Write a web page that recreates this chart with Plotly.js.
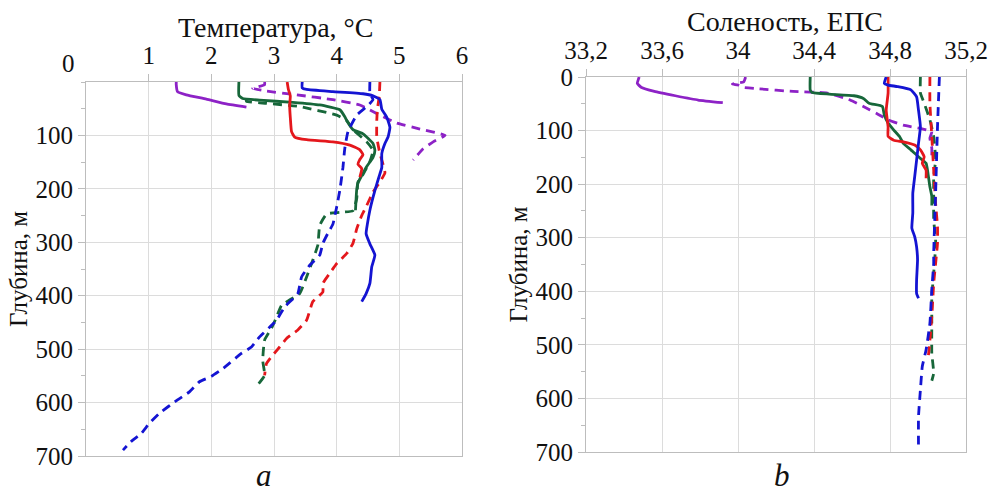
<!DOCTYPE html>
<html>
<head>
<meta charset="utf-8">
<script src="https://cdn.plot.ly/plotly-3.0.1.min.js"></script>
<style>html,body{margin:0;padding:0;background:#fff;}#chart{width:991px;height:494px;}</style>
</head>
<body>
<div id="chart"></div>
<script>
// ---------- Panel a: temperature (°C) vs depth (m) ----------
const tPurpleSolidDepth = [0, 5, 18, 24, 32, 41, 47];
const tPurpleSolidVal   = [1.44, 1.44, 1.46, 1.60, 1.92, 2.24, 2.56];

const tPurpleDashDepth = [0, 5, 12, 17, 24, 33, 43, 62, 77, 88, 100, 112, 125, 146];
const tPurpleDashVal   = [2.85, 2.85, 2.66, 2.88, 3.36, 3.94, 4.37, 4.69, 4.96, 5.33, 5.73, 5.54, 5.38, 5.22];

const tGreenSolidDepth = [0, 25, 31, 34, 38, 43, 52, 65, 72, 89, 97, 115, 128, 141, 158, 175, 189, 201, 219, 240];
const tGreenSolidVal   = [2.44, 2.44, 2.50, 2.77, 3.30, 3.73, 4.05, 4.13, 4.16, 4.26, 4.42, 4.58, 4.61, 4.58, 4.48, 4.40, 4.34, 4.32, 4.31, 4.30];

const tGreenDashDepth = [30, 36, 40, 46, 62, 72, 89, 112, 128, 149, 173, 187, 218, 241, 244, 247, 268, 305, 333, 365, 396, 408, 418, 440, 461, 483, 521, 549, 567];
const tGreenDashVal   = [2.56, 2.56, 2.88, 3.41, 4.00, 4.16, 4.26, 4.48, 4.58, 4.53, 4.42, 4.34, 4.32, 4.26, 4.05, 3.84, 3.73, 3.70, 3.62, 3.52, 3.41, 3.25, 3.12, 3.04, 2.96, 2.85, 2.82, 2.85, 2.74];

const tRedSolidDepth = [0, 14, 26, 44, 66, 93, 103, 108, 112, 118, 127, 136, 145, 154, 162, 178];
const tRedSolidVal   = [3.21, 3.23, 3.26, 3.25, 3.26, 3.28, 3.33, 3.52, 3.94, 4.21, 4.37, 4.42, 4.37, 4.34, 4.40, 4.37];

const tRedDashDepth = [0, 26, 51, 72, 103, 134, 146, 170, 187, 206, 231, 250, 275, 302, 321, 340, 358, 377, 393, 411, 446, 464, 480, 496, 514, 527, 549];
const tRedDashVal   = [4.69, 4.68, 4.65, 4.64, 4.64, 4.69, 4.72, 4.77, 4.69, 4.58, 4.48, 4.40, 4.32, 4.26, 4.16, 4.00, 3.89, 3.78, 3.78, 3.62, 3.52, 3.38, 3.20, 3.09, 2.96, 2.88, 2.85];

const tBlueSolidDepth = [0, 11, 14, 18, 22, 26, 33, 51, 66, 85, 103, 115, 134, 160, 172, 191, 216, 240, 266, 284, 303, 324, 346, 377, 396, 411];
const tBlueSolidVal   = [3.45, 3.45, 3.52, 3.94, 4.42, 4.58, 4.69, 4.72, 4.80, 4.85, 4.82, 4.77, 4.72, 4.72, 4.69, 4.64, 4.58, 4.53, 4.49, 4.47, 4.53, 4.61, 4.56, 4.53, 4.47, 4.40];

const tBlueDashDepth = [0, 22, 33, 46, 62, 93, 124, 160, 203, 234, 266, 283, 302, 324, 343, 365, 396, 421, 446, 459, 477, 496, 508, 536, 551, 561, 580, 595, 620, 639, 658, 673, 689];
const tBlueDashVal   = [4.53, 4.53, 4.58, 4.48, 4.32, 4.18, 4.13, 4.10, 4.05, 4.00, 3.94, 3.86, 3.78, 3.73, 3.57, 3.44, 3.38, 3.17, 3.04, 2.93, 2.77, 2.64, 2.48, 2.19, 2.00, 1.81, 1.65, 1.46, 1.17, 1.01, 0.88, 0.72, 0.59];

// ---------- Panel b: salinity (PSU) vs depth (m) ----------
const sPurpleSolidDepth = [0, 12, 19, 27, 35, 43, 48];
const sPurpleSolidVal   = [33.48, 33.47, 33.49, 33.56, 33.67, 33.79, 33.92];

const sPurpleDashDepth = [0, 9, 13, 15, 19, 22, 27, 30, 43, 55, 68, 80, 90, 96, 102, 114, 133, 146];
const sPurpleDashVal   = [34.04, 34.03, 33.97, 34.00, 34.02, 34.11, 34.29, 34.47, 34.59, 34.66, 34.73, 34.79, 34.87, 34.96, 35.02, 35.01, 35.02, 35.02];

const sGreenSolidDepth = [0, 24, 29, 32, 35, 40, 49, 55, 71, 86, 99, 111, 124, 136, 149, 161, 180, 205, 223, 240];
const sGreenSolidVal   = [34.38, 34.38, 34.39, 34.48, 34.61, 34.66, 34.69, 34.76, 34.77, 34.79, 34.82, 34.85, 34.87, 34.91, 34.95, 34.99, 35.00, 35.01, 35.02, 35.02];

const sGreenDashDepth = [0, 30, 49, 80, 111, 155, 186, 230, 267, 304, 317, 366, 410, 460, 516, 553, 567];
const sGreenDashVal   = [34.96, 34.96, 34.98, 35.01, 35.03, 35.04, 35.03, 35.03, 35.03, 35.04, 35.04, 35.03, 35.02, 35.02, 35.02, 35.03, 35.02];

const sRedSolidDepth = [0, 30, 62, 93, 111, 118, 121, 127, 136, 149, 161, 174, 189];
const sRedSolidVal   = [34.79, 34.79, 34.78, 34.79, 34.79, 34.82, 34.87, 34.93, 34.96, 34.98, 34.97, 34.99, 34.99];

const sRedDashDepth = [0, 49, 111, 174, 236, 279, 310, 385, 447, 491, 528];
const sRedDashVal   = [35.01, 35.01, 35.02, 35.03, 35.04, 35.05, 35.05, 35.03, 35.02, 35.01, 35.00];

const sBlueSolidDepth = [0, 12, 15, 18, 24, 37, 62, 93, 124, 155, 186, 217, 254, 282, 298, 317, 341, 379, 404, 413];
const sBlueSolidVal   = [34.78, 34.77, 34.79, 34.84, 34.91, 34.94, 34.95, 34.96, 34.95, 34.94, 34.93, 34.92, 34.92, 34.915, 34.93, 34.94, 34.945, 34.94, 34.94, 34.95];

const sBlueDashDepth = [0, 93, 217, 329, 348, 397, 460, 509, 540, 584, 634, 696];
const sBlueDashVal   = [35.06, 35.05, 35.04, 35.03, 35.03, 35.02, 35.01, 34.99, 34.97, 34.96, 34.95, 34.95];

// ---------- Axis ticks ----------
const tempTickVals = [1, 2, 3, 4, 5, 6];
const tempTickText = ["1", "2", "3", "4", "5", "6"];
const salTickVals = [33.2, 33.6, 34.0, 34.4, 34.8, 35.2];
const salTickText = ["33,2", "33,6", "34", "34,4", "34,8", "35,2"];
const depthTickValsA = [100, 200, 300, 400, 500, 600, 700];
const depthTickTextA = ["100", "200", "300", "400", "500", "600", "700"];
const depthTickValsB = [0, 100, 200, 300, 400, 500, 600, 700];
const depthTickTextB = ["0", "100", "200", "300", "400", "500", "600", "700"];

const titleTemp = "Температура, °C";
const titleSal = "Соленость, ЕПС";
const titleDepth = "Глубина, м";

// ---------- Styles ----------
const PURPLE = "#8d22c6", GREEN = "#17673a", RED = "#e4171c", BLUE = "#1414d2";
const LW = 2.8;
const DASH = "9px,6px";

function tr(x, y, color, dashed, xa, ya) {
  return {
    type: "scatter", mode: "lines", x: x, y: y, xaxis: xa, yaxis: ya,
    line: {color: color, width: LW, dash: dashed ? DASH : "solid", shape: "spline", smoothing: 0.4},
    hoverinfo: "x+y", showlegend: false
  };
}

const data = [
  tr(tPurpleSolidVal, tPurpleSolidDepth, PURPLE, false, "x", "y"),
  tr(tPurpleDashVal, tPurpleDashDepth, PURPLE, true, "x", "y"),
  tr(tGreenDashVal, tGreenDashDepth, GREEN, true, "x", "y"),
  tr(tGreenSolidVal, tGreenSolidDepth, GREEN, false, "x", "y"),
  tr(tRedSolidVal, tRedSolidDepth, RED, false, "x", "y"),
  tr(tRedDashVal, tRedDashDepth, RED, true, "x", "y"),
  tr(tBlueDashVal, tBlueDashDepth, BLUE, true, "x", "y"),
  tr(tBlueSolidVal, tBlueSolidDepth, BLUE, false, "x", "y"),

  tr(sPurpleSolidVal, sPurpleSolidDepth, PURPLE, false, "x2", "y2"),
  tr(sPurpleDashVal, sPurpleDashDepth, PURPLE, true, "x2", "y2"),
  tr(sGreenDashVal, sGreenDashDepth, GREEN, true, "x2", "y2"),
  tr(sGreenSolidVal, sGreenSolidDepth, GREEN, false, "x2", "y2"),
  tr(sRedDashVal, sRedDashDepth, RED, true, "x2", "y2"),
  tr(sBlueDashVal, sBlueDashDepth, BLUE, true, "x2", "y2"),
  tr(sRedSolidVal, sRedSolidDepth, RED, false, "x2", "y2"),
  tr(sBlueSolidVal, sBlueSolidDepth, BLUE, false, "x2", "y2")
];

const W = 991, H = 494;
const FONT = "'Liberation Serif', 'Times New Roman', serif";
const GRID = "#dcdcdc", LINE = "#bdbdbd";
const TICKSIZE = 25;

function xAxis(domain, range, tv, tt, anchor) {
  return {
    domain: domain, range: range, side: "top", anchor: anchor,
    tickvals: tv, ticktext: tt, ticks: "outside", ticklen: 7, tickcolor: LINE,
    showline: true, linecolor: LINE, linewidth: 1, mirror: true,
    showgrid: true, gridcolor: GRID, gridwidth: 1, zeroline: false,
    tickfont: {family: FONT, size: TICKSIZE, color: "#111"},
    fixedrange: true
  };
}
function yAxis(domain, tv, tt, anchor, standoff) {
  return {
    domain: domain, range: [700, 0], anchor: anchor,
    tickvals: tv, ticktext: tt, ticks: "outside", ticklen: 7, tickcolor: LINE,
    minor: {dtick: 50, tick0: 0, ticks: "outside", ticklen: 4, tickcolor: LINE, showgrid: false},
    showline: true, linecolor: LINE, linewidth: 1, mirror: true,
    showgrid: true, gridcolor: GRID, gridwidth: 1, zeroline: false,
    tickfont: {family: FONT, size: TICKSIZE, color: "#111"},
    title: {text: titleDepth, font: {family: FONT, size: 25, color: "#111"}, standoff: standoff},
    fixedrange: true
  };
}

const layout = {
  width: W, height: H,
  margin: {l: 0, r: 0, t: 0, b: 0, autoexpand: false},
  paper_bgcolor: "#fff", plot_bgcolor: "#fff",
  showlegend: false,
  xaxis: xAxis([86 / W, 462 / W], [0, 6], tempTickVals, tempTickText, "y"),
  yaxis: yAxis([1 - 456 / H, 1 - 82 / H], depthTickValsA, depthTickTextA, "x", 0),
  xaxis2: xAxis([586 / W, 966 / W], [33.2, 35.2], salTickVals, salTickText, "y2"),
  yaxis2: yAxis([1 - 452 / H, 1 - 77 / H], depthTickValsB, depthTickTextB, "x2", 0),
  annotations: [
    {text: titleTemp, xref: "paper", yref: "paper", x: 275 / W, y: 1 - 27 / H, showarrow: false,
     xanchor: "center", yanchor: "middle", font: {family: FONT, size: 28, color: "#111"}},
    {text: titleSal, xref: "paper", yref: "paper", x: 785 / W, y: 1 - 22 / H, showarrow: false,
     xanchor: "center", yanchor: "middle", font: {family: FONT, size: 28, color: "#111"}},
    {text: "0", xref: "paper", yref: "paper", x: 68 / W, y: 1 - 63 / H, showarrow: false,
     xanchor: "center", yanchor: "middle", font: {family: FONT, size: TICKSIZE, color: "#111"}},
    {text: "<i>a</i>", xref: "paper", yref: "paper", x: 264 / W, y: 1 - 475 / H, showarrow: false,
     xanchor: "center", yanchor: "middle", font: {family: FONT, size: 31, color: "#111"}},
    {text: "<i>b</i>", xref: "paper", yref: "paper", x: 782 / W, y: 1 - 475 / H, showarrow: false,
     xanchor: "center", yanchor: "middle", font: {family: FONT, size: 31, color: "#111"}}
  ]
};

Plotly.newPlot("chart", data, layout, {staticPlot: true, displayModeBar: false});
</script>
</body>
</html>
